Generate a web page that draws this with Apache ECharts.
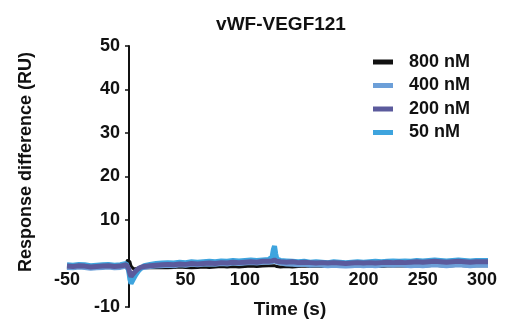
<!DOCTYPE html>
<html><head><meta charset="utf-8">
<script src="https://cdn.jsdelivr.net/npm/echarts@6/dist/echarts.min.js"></script>
<style>html,body{margin:0;padding:0;background:#fff}#c{width:518px;height:330px}</style>
</head><body><div id="c"></div>
<script>
const title = 'vWF-VEGF121';
const xName = 'Time (s)';
const yName = 'Response difference (RU)';
const seriesNames = ['800 nM', '400 nM', '200 nM', '50 nM'];
const time = [-50,-45,-40,-35,-30,-25,-20,-15,-10,-5,0, 1,2,3,4,5,6,8,10,12, 15,20,25,30,35,40,45,50,55,60,65,70,75,80,85,90,95,100,105,110,115,120, 123,124,125,126,127, 130,135,140,145,150,155,160,165,170,175,180,185,190,195,200,205,210,215,220,225,230,235,240,245,250,255,260,265,270,275,280,285,290,295,300,305];
const v800 = [-0.8,-0.9,-0.7,-0.8,-1.0,-0.9,-0.8,-0.7,-0.9,-0.8,0.0,
  0.8,1.0,0.4,-0.6,-1.0,-1.2,-1.2,-1.1,-1.0,
  -1.0,-0.9,-1.0,-0.9,-1.0,-0.9,-0.8,-0.9,-1.0,-0.9,-0.8,-0.9,-0.8,-0.7,-0.8,-0.7,-0.8,-0.7,-0.6,-0.7,-0.6,-0.5,
  -0.5,-0.4,-0.5,-0.6,-0.7,
  -0.8,-0.7,-0.8,-0.7,-0.6,-0.7,-0.6,-0.7,-0.6,-0.5,-0.6,-0.7,-0.6,-0.5,-0.6,-0.5,-0.6,-0.7,-0.6,-0.5,-0.6,-0.5,-0.6,-0.5,-0.6,-0.5,-0.4,-0.5,-0.6,-0.5,-0.4,-0.5,-0.6,-0.5,-0.5,-0.5];
const v400 = [-0.9,-1.0,-0.8,-0.9,-1.1,-1.0,-0.9,-0.8,-1.0,-0.9,-0.6,
  -0.7,-1.5,-2.7,-3.5,-3.3,-2.7,-2.0,-1.5,-1.1,
  -0.9,-0.7,-0.6,-0.5,-0.4,-0.5,-0.3,-0.4,-0.2,-0.3,-0.2,-0.1,-0.2,0.0,-0.1,0.1,0.0,0.1,0.2,0.1,0.3,0.3,
  0.4,0.5,0.6,0.4,0.3,
  0.1,-0.1,-0.2,-0.3,-0.2,-0.4,-0.3,-0.4,-0.5,-0.4,-0.5,-0.6,-0.5,-0.4,-0.5,-0.4,-0.5,-0.4,-0.3,-0.4,-0.3,-0.4,-0.5,-0.4,-0.5,-0.4,-0.3,-0.4,-0.5,-0.4,-0.3,-0.4,-0.5,-0.4,-0.4,-0.4];
const v200 = [-0.6,-0.7,-0.5,-0.6,-0.8,-0.7,-0.6,-0.5,-0.7,-0.6,-0.3,
  -0.4,-1.2,-2.3,-3.0,-2.8,-2.3,-1.7,-1.2,-0.9,
  -0.7,-0.5,-0.4,-0.3,-0.2,-0.3,-0.1,-0.2,0.0,-0.1,0.0,0.1,0.0,0.2,0.1,0.3,0.2,0.3,0.4,0.3,0.5,0.5,
  0.6,0.7,0.8,0.6,0.5,
  0.4,0.3,0.4,0.2,0.3,0.2,0.1,0.2,0.1,0.2,0.1,0.0,0.1,0.2,0.1,0.2,0.1,0.2,0.3,0.2,0.3,0.2,0.3,0.4,0.3,0.4,0.5,0.4,0.3,0.4,0.5,0.4,0.3,0.4,0.4,0.4];
const v50 = [-0.3,-0.4,-0.2,-0.3,-0.5,-0.4,-0.3,-0.2,-0.4,-0.3,0.0,
  -0.2,-1.6,-3.6,-4.6,-4.4,-3.6,-2.6,-1.8,-1.2,
  -0.5,-0.2,0.0,0.1,0.2,0.1,0.3,0.2,0.4,0.3,0.4,0.5,0.4,0.6,0.5,0.7,0.6,0.7,0.8,0.7,0.8,0.9,
  1.6,3.2,4.0,2.2,1.0,
  0.7,0.6,0.5,0.4,0.5,0.3,0.4,0.3,0.2,0.4,0.3,0.2,0.3,0.4,0.3,0.4,0.5,0.4,0.5,0.6,0.5,0.6,0.5,0.7,0.6,0.7,0.8,0.7,0.6,0.7,0.8,0.7,0.6,0.7,0.7,0.7];
const colors = {'800 nM':'#111111','400 nM':'#6c9fd8','200 nM':'#5b5a9c','50 nM':'#3ea4de'};

const pairs = a => time.map((t,i)=>[t,a[i]]);
const chart = echarts.init(document.getElementById('c'), null, {renderer:'canvas'});
const mk = (name, vals, w) => ({
  name, type:'line', data: pairs(vals), showSymbol:false, symbol:'none',
  lineStyle:{color:colors[name], width:w}, itemStyle:{color:colors[name]}, animation:false
});
const fontB = {fontFamily:'Liberation Sans', fontWeight:'bold', color:'#111'};
chart.setOption({
  animation:false,
  title:{text:title, left:276, top:10, textAlign:'center',
    textStyle:Object.assign({fontSize:19}, fontB)},
  grid:{left:67, right:30, top:46, bottom:23},
  legend:{
    data: seriesNames, orient:'vertical', left:368, top:48, itemGap:5.5,
    itemWidth:20, itemHeight:5, icon:'rect',
    textStyle:Object.assign({fontSize:18, padding:[0,0,0,11]}, fontB)
  },
  xAxis:{type:'value', min:-50, max:305, interval:50, offset:-43.5,
    axisLine:{show:false, onZero:false}, axisTick:{show:false}, splitLine:{show:false},
    axisLabel:Object.assign({showMaxLabel:false, margin:8, fontSize:18,
      formatter: v => v===0 ? '' : String(v)}, fontB)
  },
  yAxis:{type:'value', min:-10, max:50, interval:10, offset:-62,
    axisLine:{show:true, onZero:false, lineStyle:{color:'#111', width:2}},
    axisTick:{show:true, length:4, lineStyle:{color:'#111', width:1.5}},
    splitLine:{show:false},
    axisLabel:Object.assign({margin:9, fontSize:18,
      formatter: v => v===0 ? '' : String(v)}, fontB)
  },
  graphic:[
    {type:'text', x:26, y:162, rotation:Math.PI/2,
      style:{text:yName, fontFamily:'Liberation Sans', fontWeight:'bold', fontSize:18, fill:'#111', align:'center', verticalAlign:'middle'}},
    {type:'text', x:290, y:310,
      style:{text:xName, fontFamily:'Liberation Sans', fontWeight:'bold', fontSize:19, fill:'#111', align:'center', verticalAlign:'middle'}}
  ],
  series:[
    mk('800 nM', v800, 3),
    mk('400 nM', v400, 5),
    mk('50 nM', v50, 5),
    mk('200 nM', v200, 5)
  ]
});
</script></body></html>
